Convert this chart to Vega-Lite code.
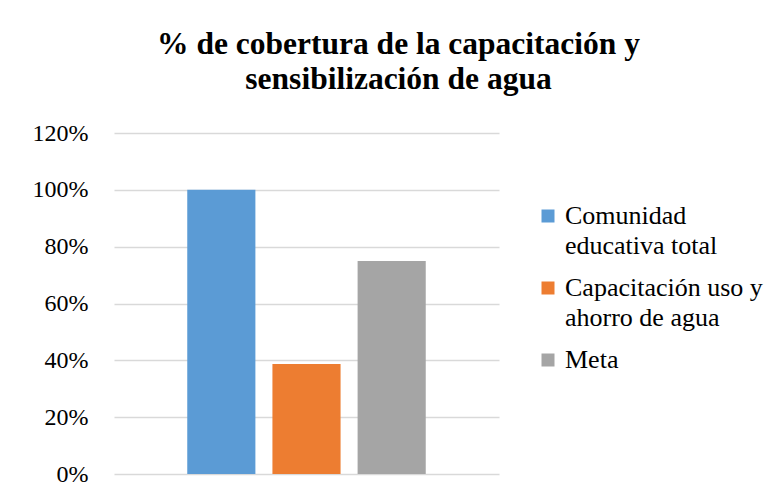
{
  "$schema": "https://vega.github.io/schema/vega-lite/v6.json",
  "autosize": "none",
  "width": 385,
  "height": 341,
  "padding": {"left": 114, "top": 133, "right": 276, "bottom": 23},
  "background": "white",
  "title": {
    "text": ["% de cobertura de la capacitación y", "sensibilización de agua"],
    "font": "Liberation Serif",
    "fontSize": 31.5,
    "fontWeight": "bold",
    "color": "#000000",
    "anchor": "middle",
    "dx": 92,
    "lineHeight": 35,
    "offset": 26
  },
  "data": {
    "values": [
      {"serie": "Comunidad educativa total", "valor": 1.0},
      {"serie": "Capacitación uso y ahorro de agua", "valor": 0.387},
      {"serie": "Meta", "valor": 0.75}
    ]
  },
  "mark": {"type": "bar"},
  "encoding": {
    "x": {
      "field": "serie",
      "type": "nominal",
      "sort": null,
      "axis": null,
      "scale": {"paddingInner": 0.2, "paddingOuter": 0.86}
    },
    "y": {
      "field": "valor",
      "type": "quantitative",
      "scale": {"domain": [0, 1.2]},
      "axis": {
        "title": null,
        "values": [0, 0.2, 0.4, 0.6, 0.8, 1.0, 1.2],
        "format": ".0%",
        "domain": false,
        "ticks": false,
        "labelPadding": 26,
        "labelFont": "Liberation Serif",
        "labelFontSize": 24,
        "labelColor": "#000000",
        "gridColor": "#D9D9D9",
        "gridWidth": 1.3
      }
    },
    "color": {
      "field": "serie",
      "type": "nominal",
      "sort": null,
      "scale": {
        "domain": ["Comunidad educativa total", "Capacitación uso y ahorro de agua", "Meta"],
        "range": ["#5B9BD5", "#ED7D31", "#A5A5A5"]
      },
      "legend": {
        "title": null,
        "orient": "none",
        "legendX": 421,
        "legendY": 70,
        "symbolType": "square",
        "symbolSize": 169,
        "symbolStrokeWidth": 0,
        "labelFont": "Liberation Serif",
        "labelFontSize": 26,
        "labelColor": "#000000",
        "labelOffset": 4,
        "labelLimit": 300,
        "rowPadding": 16,
        "labelExpr": "datum.label == 'Comunidad educativa total' ? ['Comunidad', 'educativa total'] : datum.label == 'Capacitación uso y ahorro de agua' ? ['Capacitación uso y', 'ahorro de agua'] : datum.label"
      }
    }
  },
  "config": {
    "view": {"stroke": null},
    "style": {"guide-label": {"lineHeight": 30}},
    "legend": {
      "labelFont": "Liberation Serif",
      "labelFontSize": 26,
      "labelColor": "#000000",
      "symbolSize": 169
    }
  }
}
